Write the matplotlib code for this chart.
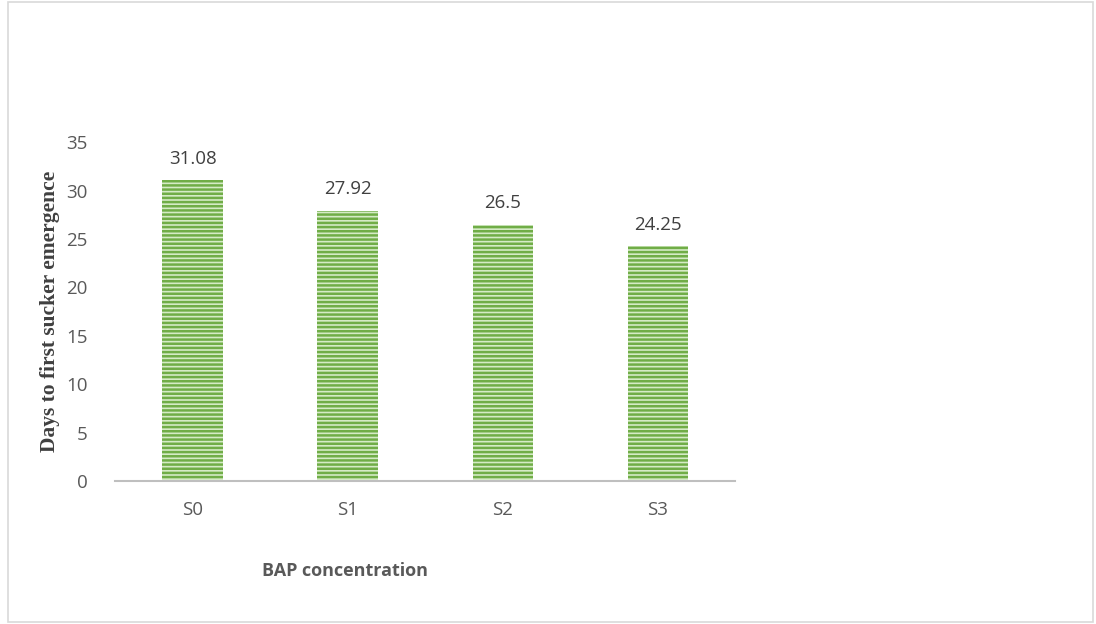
import matplotlib
matplotlib.use("Agg")
import matplotlib.pyplot as plt
from matplotlib.patches import Rectangle

categories = ["S0", "S1", "S2", "S3"]
days = [31.08, 27.92, 26.5, 24.25]
value_labels = ["31.08", "27.92", "26.5", "24.25"]
y_ticks = [0, 5, 10, 15, 20, 25, 30, 35]

plt.rcParams['hatch.linewidth'] = 1.8
plt.rcParams['hatch.color'] = '#70ad47'

fig = plt.figure(figsize=(10.96, 6.24), dpi=100)
ax = fig.add_axes([0.105, 0.229, 0.566, 0.543])

x = range(len(categories))
bars = ax.bar(x, days, width=0.39, color='#d5ebc6', edgecolor='#70ad47',
              hatch='----', linewidth=0)

for xi, v, lab in zip(x, days, value_labels):
    ax.text(xi, v + 1.3, lab, ha='center', va='bottom', fontsize=13.5,
            color='#404040', family='Open Sans')

ax.set_xlim(-0.5, 3.5)
ax.set_ylim(0, 35)
ax.set_yticks(y_ticks)
ax.set_xticks(list(x))
ax.set_xticklabels(categories)
for lab in ax.get_xticklabels() + ax.get_yticklabels():
    lab.set_family('Open Sans')
    lab.set_fontsize(13.5)
    lab.set_color('#595959')
ax.tick_params(axis='both', length=0)
ax.tick_params(axis='x', pad=14)
ax.tick_params(axis='y', pad=20)

for s in ['top', 'right', 'left']:
    ax.spines[s].set_visible(False)
ax.spines['bottom'].set_color('#bfbfbf')
ax.spines['bottom'].set_linewidth(1.5)

ax.set_ylabel("Days to first sucker emergence", family='Liberation Serif',
              fontweight='bold', fontsize=15.5, color='#404040', labelpad=4)
fig.text(0.315, 0.085, "BAP concentration", ha='center', va='center',
         family='Open Sans', fontweight='bold', fontsize=13, color='#595959')

fig.patches.append(Rectangle((0.007, 0.003), 0.99, 0.994, transform=fig.transFigure,
                             fill=False, edgecolor='#d9d9d9', linewidth=1.2))

fig.savefig("out.png", dpi=100)
